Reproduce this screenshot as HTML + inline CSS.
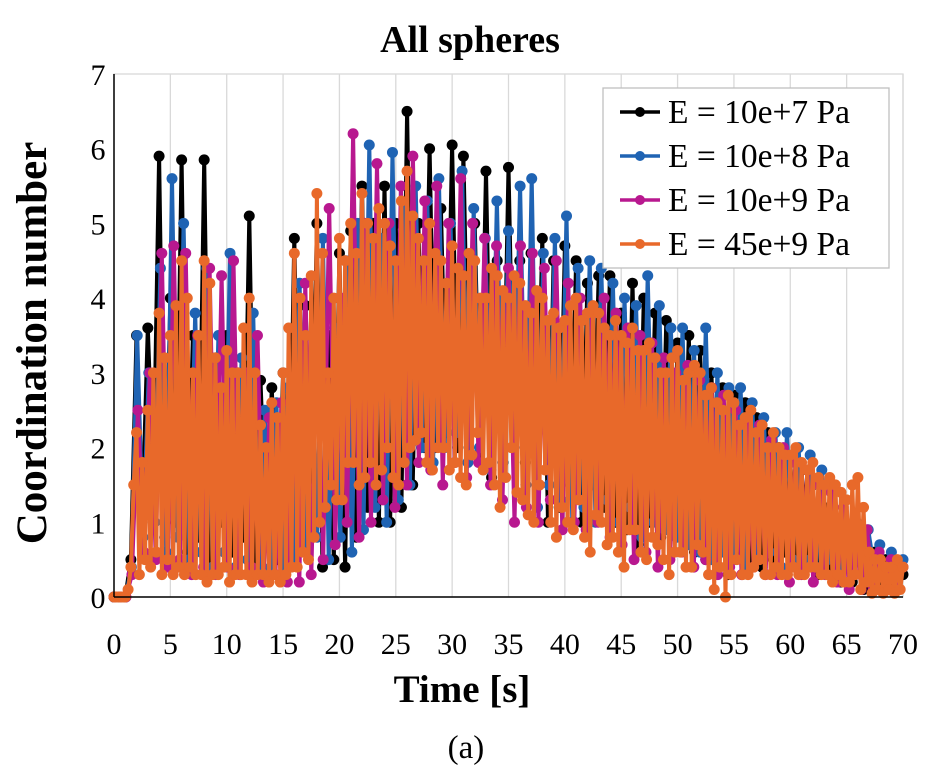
<!DOCTYPE html>
<html><head><meta charset="utf-8">
<style>
html,body{margin:0;padding:0;background:#fff;}
svg text{font-family:"Liberation Serif",serif;}
</style></head>
<body>
<svg width="939" height="778" viewBox="0 0 939 778" xmlns="http://www.w3.org/2000/svg">
<g id="grid"></g>
<g id="series"></g>
<g id="axes"></g>
<text x="470" y="52" text-anchor="middle" font-size="38" font-weight="bold">All spheres</text>
<text x="462" y="702" text-anchor="middle" font-size="39" font-weight="bold">Time [s]</text>
<text transform="translate(46,343) rotate(-90)" text-anchor="middle" font-size="43" font-weight="bold">Coordination number</text>
<text x="466" y="758" text-anchor="middle" font-size="33">(a)</text>
<g id="legend"></g>
</svg>
<script>
const xTicks = [0,5,10,15,20,25,30,35,40,45,50,55,60,65,70];
const yTicks = [0,1,2,3,4,5,6,7];
const seriesNames = ["E = 10e+7 Pa","E = 10e+8 Pa","E = 10e+9 Pa","E = 45e+9 Pa"];
const seriesColors = ["#000000","#1f63b3","#b8188f","#e8692a"];
const blackVals = [0,0,0,0.5,3.5,1.0,3.6,1.5,5.9,0.8,4.0,1.0,5.85,0.6,3.5,0.8,5.85,0.5,3.2,1.0,3.5,0.6,3.0,0.8,5.1,0.5,2.9,0.8,2.8,0.5,3.0,0.6,4.8,0.7,3.9,1.0,5.0,0.4,3.5,0.5,4.6,0.4,4.9,0.8,5.5,1.2,5.0,1.0,5.5,1.0,5.0,1.2,6.5,1.5,5.0,2.0,6.0,2.0,5.2,2.2,6.05,2.0,5.9,2.2,5.0,1.8,5.7,1.6,4.5,1.8,5.75,2.0,4.5,1.8,4.6,1.5,4.8,1.0,4.5,1.2,4.7,1.5,4.5,1.0,4.2,1.5,4.3,1.2,4.3,1.0,3.8,0.9,4.2,0.7,4.0,1.0,3.8,0.8,3.7,1.0,3.4,0.8,3.5,0.6,3.3,0.5,3.0,0.7,2.8,0.3,2.7,0.6,2.6,0.5,2.4,0.4,2.2,0.5,2.0,0.6,1.8,0.5,1.7,0.4,1.5,0.3,1.2,0.3,1.0,0.2,0.8,0.2,0.6,0.1,0.5,0.6,0.2,0.5,0.1,0.4,0.3];
const blueVals = [0,0,0,0.4,3.5,0.8,3.0,1.0,4.4,0.6,5.6,0.8,5.0,0.5,3.8,0.6,4.4,0.4,3.5,0.6,4.6,0.4,3.2,0.5,3.8,0.3,2.5,0.4,2.6,0.3,2.8,0.5,4.2,0.6,3.5,0.8,4.8,0.5,3.6,0.8,4.5,0.6,5.0,0.9,6.05,1.2,4.8,1.0,5.95,1.3,5.2,1.5,5.5,2.0,5.3,1.8,5.6,2.0,5.0,2.2,5.7,1.8,5.2,2.0,4.8,1.7,5.3,1.8,4.9,2.0,5.5,1.5,5.6,1.2,4.6,1.5,4.8,1.3,5.1,1.0,4.4,1.2,4.5,1.0,4.4,1.3,4.2,1.0,4.0,1.2,3.9,0.8,4.3,1.0,3.9,0.9,3.6,0.8,3.6,0.7,3.3,0.6,3.6,0.5,3.0,0.6,2.8,0.5,2.8,0.4,2.6,0.5,2.4,0.6,2.2,0.4,2.2,0.5,2.0,0.5,1.9,0.4,1.7,0.5,1.5,0.4,1.3,0.6,1.0,0.5,0.9,0.4,0.7,0.3,0.6,0.2,0.5];
const magentaVals = [0,0,0,0.3,2.5,0.6,3.0,0.5,4.6,0.4,4.7,0.5,4.6,0.3,3.5,0.4,4.4,0.3,4.3,0.4,4.5,0.3,3.0,0.4,3.5,0.2,2.4,0.3,2.6,0.2,2.8,0.2,4.2,0.3,3.6,0.5,5.2,0.7,4.0,1.0,6.2,0.8,5.0,1.0,5.8,1.3,5.0,1.2,5.5,1.5,5.9,1.8,5.3,1.7,5.5,1.5,5.0,1.8,5.6,1.6,5.0,1.8,4.8,1.5,4.7,1.3,4.4,1.0,4.7,1.2,4.6,1.0,4.4,1.3,4.5,0.9,4.2,1.0,4.0,0.9,3.8,1.0,4.0,0.8,3.8,0.7,3.6,0.5,3.5,0.6,3.4,0.4,3.2,0.5,3.0,0.6,3.1,0.4,2.9,0.5,2.8,0.3,2.7,0.4,2.5,0.3,2.4,0.4,2.3,0.3,2.1,0.3,2.0,0.2,1.8,0.3,1.7,0.2,1.5,0.3,1.4,0.2,1.2,0.1,1.0,0.1,0.9,0.1,0.6,0.1,0.5,0.1,0.4];
const orangeVals = [0,0,0,0,0,0.1,0.4,1.5,
2.2,0.3,1.8,0.5, 2.5,0.4,3.0,0.6, 3.8,0.3,3.2,0.5, 3.5,0.3,3.9,0.4, 4.5,0.3,4.0,0.4,
3.0,0.3,3.5,0.3, 4.5,0.2,4.2,0.3, 3.2,0.3,2.8,0.4, 3.3,0.2,3.0,0.3, 3.0,0.3,3.6,0.3,
4.0,0.2,3.0,0.3, 2.3,0.3,2.0,0.2, 2.6,0.3,2.4,0.2, 3.0,0.3,3.6,0.4, 4.6,0.4,4.0,0.6,
3.5,0.5,4.3,0.8, 5.4,1.0,4.6,1.2, 3.0,1.5,4.0,1.3, 4.8,1.3,4.5,1.8, 5.0,1.8,4.6,1.5,
5.4,1.6,5.0,1.8, 4.8,1.5,5.2,1.7, 5.0,2.0,4.7,1.6, 4.5,1.5,5.3,1.8, 5.7,2.0,5.1,2.1,
4.8,2.2,4.5,1.8, 5.0,1.7,4.6,2.0, 4.5,2.0,4.2,1.7, 4.7,1.8,4.4,1.6, 4.3,1.5,4.6,1.9,
4.5,2.2,4.0,1.7, 4.0,1.8,4.4,1.5, 4.3,1.2,4.1,1.6, 4.0,2.0,4.3,1.4, 4.2,1.3,3.9,1.1,
3.8,1.0,4.1,1.5, 4.0,1.7,3.7,1.0, 3.8,0.8,3.6,1.2, 3.7,1.0,3.9,0.9, 4.0,1.3,3.7,0.8,
3.8,0.6,3.9,1.1, 3.8,1.0,3.6,0.7, 3.5,0.8,3.7,0.6, 3.5,0.4,3.4,0.9, 3.6,0.9,3.3,0.6,
3.3,0.5,3.4,0.8, 3.2,0.7,3.0,0.5, 3.0,0.3,3.2,0.6, 3.3,0.6,2.9,0.4, 3.0,0.4,3.1,0.7,
3.0,0.6,2.7,0.3, 2.8,0.1,2.6,0.4, 2.5,0.0,2.7,0.3, 2.6,0.5,2.3,0.3, 2.4,0.3,2.5,0.4,
2.2,0.5,2.3,0.3, 2.0,0.3,2.2,0.4, 2.0,0.3,1.9,0.3, 1.9,0.4,2.0,0.3, 1.8,0.3,1.7,0.4,
1.8,0.4,1.6,0.3, 1.5,0.3,1.6,0.2, 1.5,0.3,1.4,0.2, 1.3,0.2,1.5,0.3, 1.6,0.1,1.2,0.2,
0.6,0.05,0.5,0.1, 0.5,0.05,0.4,0.1, 0.4,0.05,0.5,0.1, 0.4];
const allVals = [blackVals, blueVals, magentaVals, orangeVals];

const NS = "http://www.w3.org/2000/svg";
const X0 = 114, X1 = 903, Y0 = 597, Y1 = 74;
const xMax = 70, yMax = 7;
function xs(v){ return X0 + (X1 - X0) * v / xMax; }
function ys(v){ return Y0 - (Y0 - Y1) * v / yMax; }
function mk(tag, attrs, parent){ const e = document.createElementNS(NS, tag); for (const k in attrs) e.setAttribute(k, attrs[k]); parent.appendChild(e); return e; }

const grid = document.getElementById('grid');
const axes = document.getElementById('axes');
xTicks.forEach(t => {
  if (t > 0) {
    const gl = mk('line', {x1: xs(t), x2: xs(t), y1: Y1, y2: Y0, stroke: '#d9d9d9', 'stroke-width': 1.3}, grid);
    
    
  }
  const tx = mk('text', {x: xs(t), y: 654, 'text-anchor': 'middle', 'font-size': 30}, axes);
  tx.textContent = t;
  
  
});
yTicks.forEach(t => {
  const ty = mk('text', {x: 98, y: ys(t) + 11, 'text-anchor': 'middle', 'font-size': 30}, axes);
  ty.textContent = t;
  
  
});
const frame = mk('rect', {x: X0, y: Y1, width: X1 - X0, height: Y0 - Y1, fill: 'none', stroke: '#d9d9d9', 'stroke-width': 1.3}, grid);


const ax = mk('line', {x1: X0, x2: X1, y1: Y0, y2: Y0, stroke: '#000', 'stroke-width': 1.5}, axes);


const ay = mk('line', {x1: X0, x2: X0, y1: Y0, y2: Y1, stroke: '#000', 'stroke-width': 1.5}, axes);



const sg = document.getElementById('series');
allVals.forEach((vals, si) => {
  const g = mk('g', {}, sg);
  
  
  const n = vals.length;
  const pts = vals.map((v, i) => xs(i * xMax / (n - 1)).toFixed(1) + ',' + ys(v).toFixed(1)).join(' ');
  const pl = mk('polyline', {points: pts, fill: 'none', stroke: seriesColors[si], 'stroke-width': 4, 'stroke-linejoin': 'round'}, g);
  
  
  vals.forEach((v, i) => {
    const c = mk('circle', {cx: xs(i * xMax / (n - 1)), cy: ys(v), r: 5.5, fill: seriesColors[si]}, g);
    
    
  });
});

const lg = document.getElementById('legend');
const box = mk('rect', {x: 603, y: 88, width: 286, height: 180, fill: '#fff', stroke: '#bfbfbf', 'stroke-width': 1.3}, lg);


seriesNames.forEach((nm, i) => {
  const y = 112 + i * 44;
  const e = mk('g', {}, lg);
  
  
  mk('line', {x1: 620, x2: 660, y1: y, y2: y, stroke: seriesColors[i], 'stroke-width': 3.5}, e);
  mk('circle', {cx: 640, cy: y, r: 5, fill: seriesColors[i]}, e);
  const t = mk('text', {x: 668, y: y + 11, 'font-size': 33.5}, e);
  t.textContent = nm;
});
</script>
</body></html>
